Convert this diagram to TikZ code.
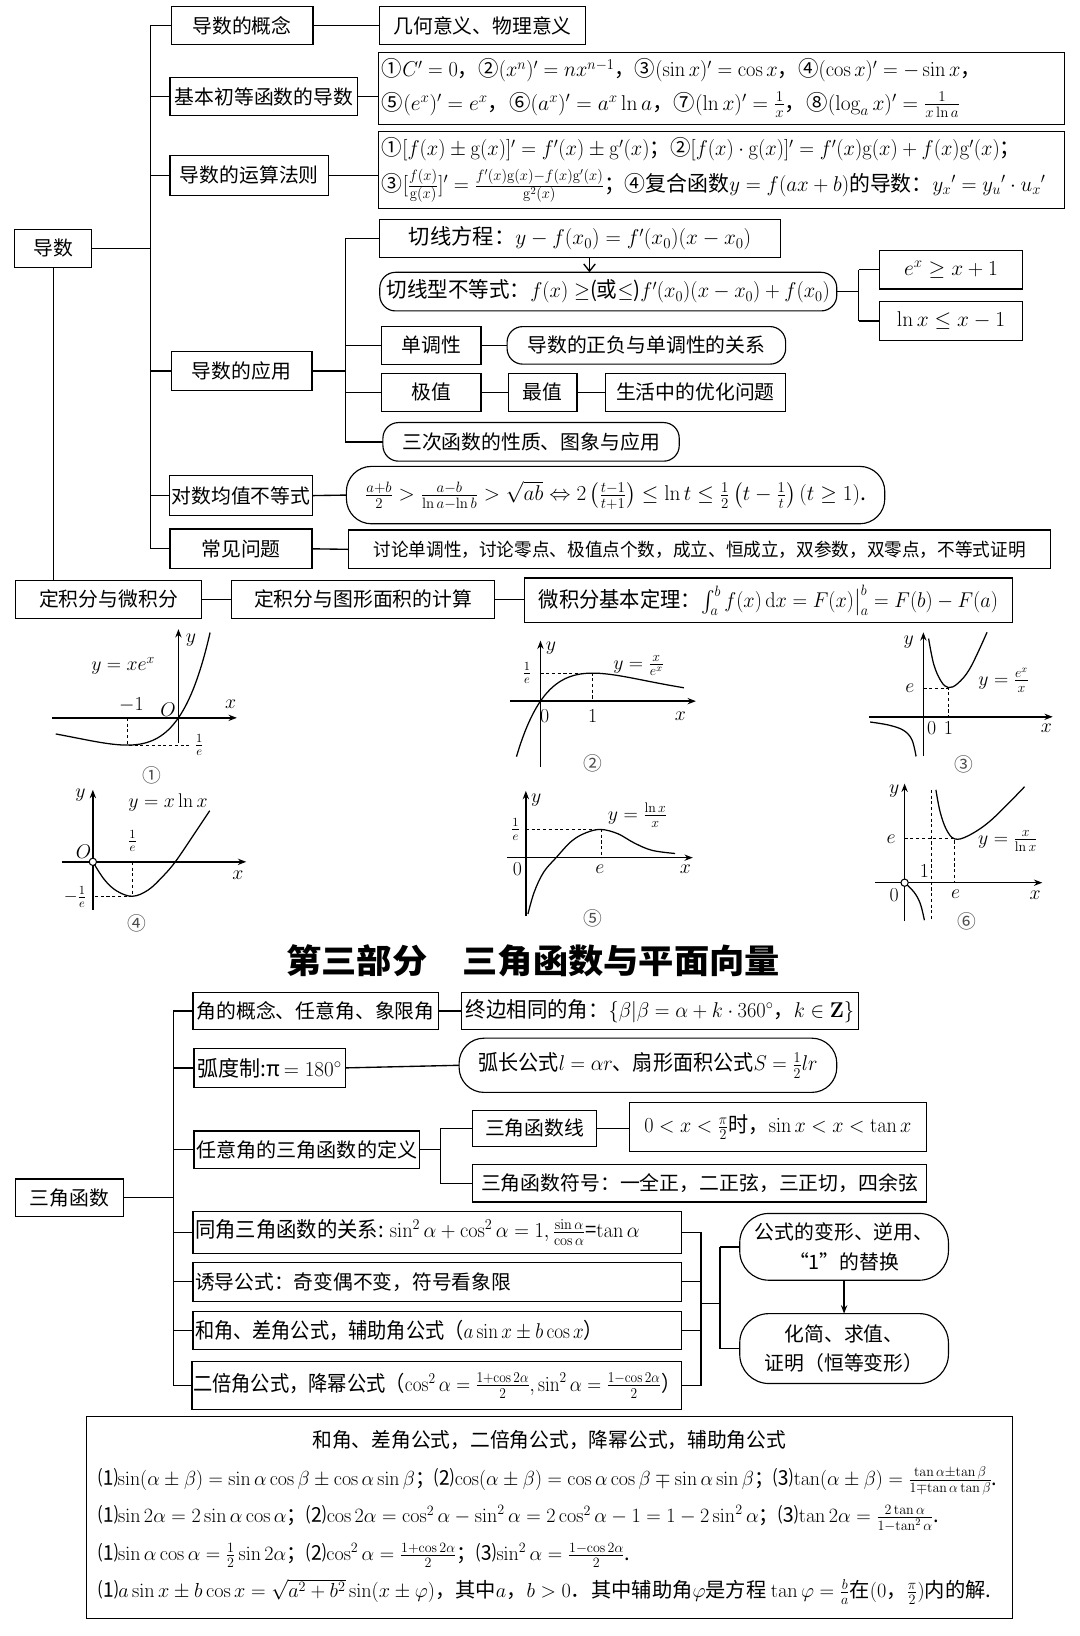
\RequirePackage{fix-cm}
\documentclass[tikz,border=0pt]{standalone}
\usepackage{amsmath,amssymb}
\usepackage[no-math]{fontspec}
\setmainfont{Noto Sans CJK SC}
\usepackage{graphicx}
\usetikzlibrary{arrows.meta}
\newcommand\fw[2]{\resizebox{#1pt}{\height}{#2}}
\newcommand\LL[3]{\makebox[#1pt][l]{\resizebox{#2pt}{\height}{#3}}}
\newcommand\CL[3]{\makebox[#1pt][c]{\resizebox{#2pt}{\height}{#3}}}
\newcommand\mybox[7]{\node[#1,minimum width={#5-#3},minimum height={#6-#4}] (#2) at ({(#3+#5)/2},{(#4+#6)/2}) {#7};}
\tikzset{
 bx/.style={draw=black, line width=1.1pt, inner sep=2pt, outer sep=0pt, align=center, font=\fontsize{19}{22}\selectfont},
 fbx/.style={bx, font=\fontsize{20.5}{24}\selectfont},
 rbx/.style={bx, rounded corners=#1},
 rbx/.default=15pt,
 conn/.style={line width=1.3pt},
 axarr/.style={line width=1.4pt, -{Stealth[length=8pt,width=6pt]}},
 crv/.style={line width=1.2pt},
 dsh/.style={line width=0.9pt, dash pattern=on 3pt off 2.5pt},
 lab/.style={inner sep=0pt, font=\fontsize{19}{21}\selectfont},
 num/.style={inner sep=0pt, font=\fontsize{18}{20}\selectfont, text=black!70},
}
\begin{document}
\begin{tikzpicture}[x=1pt,y=-1pt]
\path[fill=white,use as bounding box] (0,0) rectangle (1035,1568);

% ---------------- derivative section ----------------
\mybox{bx}{T0}{14}{220}{88}{256}{导数}
\mybox{bx}{A1}{164}{6}{300}{43}{导数的概念}
\mybox{bx}{A1r}{364}{6}{561}{43}{几何意义、物理意义}
\mybox{bx}{A2}{163}{74}{343}{111}{基本初等函数的导数}
\mybox{bx,inner xsep=3pt,font=\fontsize{20.5}{32}\selectfont}{A2r}{363}{50}{1020}{119}{%
\LL{651}{574}{①$C'=0$，②$(x^n)'=nx^{n-1}$，③$(\sin x)'=\cos x$，④$(\cos x)'=-\sin x$，}\\
\LL{651}{554}{⑤$(e^x)'=e^x$，⑥$(a^x)'=a^x\ln a$，⑦$(\ln x)'=\frac{1}{x}$，⑧$(\log_a x)'=\frac{1}{x\ln a}$}}
\mybox{bx}{A3}{163}{149}{315}{187}{导数的运算法则}
\mybox{bx,inner xsep=3pt,font=\fontsize{20.5}{34}\selectfont}{A3r}{363}{126}{1020}{200}{%
\LL{651}{612}{①$[f(x)\pm\mathrm{g}(x)]'=f'(x)\pm\mathrm{g}'(x)$；②$[f(x)\cdot\mathrm{g}(x)]'=f'(x)\mathrm{g}(x)+f(x)\mathrm{g}'(x)$；}\\
\LL{651}{636}{③$[\frac{f(x)}{\mathrm{g}(x)}]'=\frac{f'(x)\mathrm{g}(x)-f(x)\mathrm{g}'(x)}{\mathrm{g}^2(x)}$；④复合函数$y=f(ax+b)$的导数：$y_x{}'=y_u{}'\cdot u_x{}'$}}
\mybox{bx}{A4}{164}{337}{299}{374}{导数的应用}
\mybox{fbx}{Q1}{364}{210}{748}{247}{\fw{328}{切线方程：$y-f(x_0)=f'(x_0)(x-x_0)$}}
\mybox{rbx,font=\fontsize{20.5}{24}\selectfont}{Q2}{364}{261}{802}{298}{\fw{425}{切线型不等式：$f(x)\geq$(或$\leq$)$f'(x_0)(x-x_0)+f(x_0)$}}
\mybox{fbx}{Q2a}{843}{240}{980}{277}{$e^x\geq x+1$}
\mybox{fbx}{Q2b}{843}{289}{980}{326}{$\ln x\leq x-1$}
\mybox{bx}{Q3}{366}{313}{461}{349}{单调性}
\mybox{rbx}{Q3r}{486}{313}{753}{349}{导数的正负与单调性的关系}
\mybox{bx}{Q4}{366}{358}{461}{394}{极值}
\mybox{bx}{Q4b}{487}{358}{553}{394}{最值}
\mybox{bx}{Q4c}{580}{358}{753}{394}{生活中的优化问题}
\mybox{rbx}{Q5}{367}{405}{651}{442}{三次函数的性质、图象与应用}
\mybox{bx}{A5}{163}{456}{299}{494}{对数均值不等式}
\mybox{rbx=24pt,font=\fontsize{20.5}{24}\selectfont}{A5r}{332}{447}{848}{502}{\fw{480}{$\frac{a+b}{2}>\frac{a-b}{\ln a-\ln b}>\sqrt{ab}\Leftrightarrow 2\left(\frac{t-1}{t+1}\right)\leq\ln t\leq\frac{1}{2}\left(t-\frac{1}{t}\right)(t\geq1)$.}}
\mybox{bx}{A6}{163}{507}{299}{545}{常见问题}
\mybox{bx,font=\fontsize{17.5}{20}\selectfont}{A6r}{334}{508}{1007}{545}{\fw{625}{讨论单调性，讨论零点、极值点个数，成立、恒成立，双参数，双零点，不等式证明}}
\mybox{bx}{C0}{15}{556}{193}{593}{定积分与微积分}
\mybox{bx}{C1}{222}{556}{474}{593}{定积分与图形面积的计算}
\mybox{fbx}{C2}{503}{554}{970}{597}{\fw{440}{微积分基本定理：$\int_a^b f(x)\,\mathrm{d}x=F(x)\big|_a^b=F(b)-F(a)$}}

% connectors
\coordinate (trA) at (144,24.5);
\coordinate (trB) at (144,526);
\draw[conn] (trA) -- (trB);
\draw[conn] (T0.east) -- (T0.east -| trA);
\foreach \n in {A1,A2,A3,A4,A5,A6} \draw[conn] (\n.west) -- (\n.west -| trA);
\draw[conn] (A1.east) -- (A1r.west);
\draw[conn] (A2.east) -- (A2.east -| A2r.west);
\draw[conn] (A3.east) -- (A3.east -| A3r.west);
\draw[conn] (A5.east) -- (A5r.west);
\draw[conn] (A6.east) -- (A6r.west);
\coordinate (trC) at (331,228.5);
\coordinate (trD) at (331,423.5);
\draw[conn] (trC) -- (trD);
\draw[conn] (A4.east) -- (A4.east -| trC);
\foreach \n in {Q1,Q3,Q4,Q5} \draw[conn] (\n.west) -- (\n.west -| trC);
\coordinate (ax) at (565,0);
\draw[conn,-{Straight Barb[length=7pt,width=11pt]}] (Q1.south -| ax) -- (Q2.north -| ax);
\coordinate (j1) at (823,258.5);
\coordinate (j2) at (823,307.5);
\draw[conn] (j1) -- (j2);
\draw[conn] (Q2.east) -- (Q2.east -| j1);
\draw[conn] (Q2a.west) -- (Q2a.west -| j1);
\draw[conn] (Q2b.west) -- (Q2b.west -| j1);
\draw[conn] (Q3.east) -- (Q3r.west);
\draw[conn] (Q4.east) -- (Q4b.west);
\draw[conn] (Q4b.east) -- (Q4c.west);
\draw[conn] (T0.south) -- (T0.south |- C0.north);
\draw[conn] (C0.east) -- (C1.west);
\draw[conn] (C1.east) -- (C1.east -| C2.west);

% ---------------- graphs ----------------
% graph 1
\draw[axarr] (50,688) -- (227,688);
\draw[axarr] (171,712) -- (171,603);
\draw[crv,domain=-2.4:0.62,samples=60,smooth] plot ({171+49*\x},{688-71*\x*exp(\x)});
\draw[dsh] (122,688) -- (122,714) -- (183,714);
\node[lab] (g1f) at (118,638) {$y=xe^x$};
\node[lab] (g1m) at (126,676) {$-1$};
\node[lab] (g1o) at (161,680) {$O$};
\node[lab] (g1x) at (221,675) {$x$};
\node[lab] (g1y) at (183,614) {$y$};
\node[lab,font=\fontsize{17}{19}\selectfont] (g1e) at (191,714) {$\frac{1}{e}$};
\node[num] (g1n) at (146,743) {①};
% graph 2
\draw[axarr] (489,672) -- (667,672);
\draw[axarr] (518,735) -- (518,614);
\draw[crv,domain=-0.46:2.75,samples=60,smooth] plot ({518+50*\x},{672-73*\x*exp(-\x)});
\draw[dsh] (518,645) -- (568,645) -- (568,672);
\node[lab,font=\fontsize{17}{19}\selectfont] (g2e) at (505,645) {$\frac{1}{e}$};
\node[lab] (g2o) at (522,686) {$0$};
\node[lab] (g2a) at (568,686) {$1$};
\node[lab] (g2x) at (652,686) {$x$};
\node[lab] (g2y) at (528,621) {$y$};
\node[lab] (g2f) at (612,638) {$y=\frac{x}{e^x}$};
\node[num] (g2n) at (568,732) {②};
% graph 3
\draw[axarr] (833,687) -- (1009,687);
\draw[axarr] (885,725) -- (885,606);
\draw[crv] plot[smooth,tension=0.6] coordinates {(890,612) (895,637) (902,653) (909,659) (918,655) (930,640) (946,606)};
\draw[crv] plot[smooth,tension=0.6] coordinates {(834,692) (852,695) (866,700) (874,709) (878,725)};
\draw[dsh] (885,660) -- (909,660) -- (909,687);
\node[lab] (g3e) at (872,660) {$e$};
\node[lab] (g3o) at (893,698) {$0$};
\node[lab] (g3a) at (909,698) {$1$};
\node[lab] (g3x) at (1003,698) {$x$};
\node[lab] (g3y) at (871,615) {$y$};
\node[lab] (g3f) at (962,652) {$y=\frac{e^x}{x}$};
\node[num] (g3n) at (924,733) {③};
% graph 4
\draw[axarr] (59,826) -- (236,826);
\draw[axarr] (89,872) -- (89,757);
\draw[crv] plot[smooth,tension=0.6] coordinates {(89,826) (100,843) (112,854) (127,859) (142,853) (156,840) (168,826) (185,801) (201,777)};
\draw[dsh] (127,826) -- (127,859) -- (89,859);
\draw[line width=1pt,fill=white] (89,826) circle (3.5pt);
\node[lab,font=\fontsize{17}{19}\selectfont] (g4e) at (127,806) {$\frac{1}{e}$};
\node[lab,font=\fontsize{17}{19}\selectfont] (g4m) at (72,860) {$-\frac{1}{e}$};
\node[lab] (g4o) at (80,816) {$O$};
\node[lab] (g4x) at (228,839) {$x$};
\node[lab] (g4y) at (77,762) {$y$};
\node[lab] (g4f) at (161,769) {$y=x\ln x$};
\node[num] (g4n) at (131,885) {④};
% graph 5
\draw[axarr] (486,822) -- (664,822);
\draw[axarr] (504,878) -- (504,758);
\draw[crv] plot[smooth,tension=0.6] coordinates {(506,876) (512,855) (521,836) (533,822) (548,806) (562,798) (576,795) (592,799) (608,808) (625,815) (647,818)};
\draw[dsh] (504,795) -- (576,795) -- (576,822);
\node[lab,font=\fontsize{17}{19}\selectfont] (g5e) at (494,795) {$\frac{1}{e}$};
\node[lab] (g5o) at (496,833) {$0$};
\node[lab] (g5a) at (575,833) {$e$};
\node[lab] (g5x) at (657,833) {$x$};
\node[lab] (g5y) at (514,767) {$y$};
\node[lab] (g5f) at (611,781) {$y=\frac{\ln x}{x}$};
\node[num] (g5n) at (568,880) {⑤};
% graph 6
\draw[axarr] (839,846) -- (999,846);
\draw[axarr] (867,883) -- (867,751);
\draw[dsh] (893,757) -- (893,883);
\draw[crv] plot[smooth,tension=0.6] coordinates {(897,757) (901,778) (907,795) (915,804) (928,801) (950,786) (982,754)};
\draw[crv] plot[smooth,tension=0.6] coordinates {(867,846) (876,855) (882,866) (886,882)};
\draw[dsh] (867,804) -- (915,804) -- (915,846);
\draw[line width=1pt,fill=white] (867,846) circle (3.5pt);
\node[lab] (g6e) at (854,804) {$e$};
\node[lab] (g6a) at (886,835) {$1$};
\node[lab] (g6b) at (916,857) {$e$};
\node[lab] (g6o) at (857,858) {$0$};
\node[lab] (g6x) at (992,858) {$x$};
\node[lab] (g6y) at (857,758) {$y$};
\node[lab] (g6f) at (966,806) {$y=\frac{x}{\ln x}$};
\node[num] (g6n) at (927,883) {⑥};

% ---------------- title ----------------
\node[inner sep=0pt,font=\fontsize{32}{34}\selectfont\bfseries] (title) at (511,921) {\fw{473}{第三部分\hspace{1em}三角函数与平面向量}};

% ---------------- trig section ----------------
\mybox{bx}{S0}{15}{1130}{118}{1166}{三角函数}
\mybox{bx}{S1}{185}{951}{420}{987}{\fw{228}{角的概念、任意角、象限角}}
\mybox{fbx}{S1r}{442}{951}{823}{987}{\fw{372}{终边相同的角：$\{\beta|\beta=\alpha+k\cdot360^\circ$，$k\in\mathbf{Z}\}$}}
\mybox{fbx}{S2}{186}{1005}{331}{1042}{\fw{138}{弧度制:π$\,=180^\circ$}}
\mybox{rbx=24pt,font=\fontsize{20.5}{24}\selectfont}{S2r}{440}{995}{802}{1047}{\fw{325}{弧长公式$l=\alpha r$、扇形面积公式$S=\frac{1}{2}lr$}}
\mybox{bx}{S3}{186}{1084}{402}{1120}{\fw{212}{任意角的三角函数的定义}}
\mybox{bx}{S3a}{453}{1064}{572}{1099}{三角函数线}
\mybox{fbx}{S3ar}{603}{1057}{888}{1104}{\fw{256}{$0<x<\frac{\pi}{2}$时，$\sin x<x<\tan x$}}
\mybox{bx}{S3b}{453}{1116}{888}{1152}{\fw{419}{三角函数符号：一全正，二正弦，三正切，四余弦}}
\mybox{fbx,inner xsep=2pt}{S4}{185}{1161}{653}{1201}{\LL{464}{426}{同角三角函数的关系: $\sin^2\alpha+\cos^2\alpha=1,\frac{\sin\alpha}{\cos\alpha}$=$\tan\alpha$}}
\mybox{bx,inner xsep=2pt}{S5}{185}{1210}{653}{1247}{\LL{464}{303}{诱导公式：奇变偶不变，符号看象限}}
\mybox{fbx,inner xsep=2pt}{S6}{185}{1257}{653}{1293}{\LL{464}{391}{和角、差角公式，辅助角公式（$a\sin x\pm b\cos x$）}}
\mybox{fbx,inner xsep=1pt}{S7}{184}{1305}{653}{1351}{\LL{467}{467}{二倍角公式，降幂公式（$\cos^2\alpha=\frac{1+\cos2\alpha}{2},\sin^2\alpha=\frac{1-\cos2\alpha}{2}$）}}
\mybox{rbx=28pt,font=\fontsize{19}{28}\selectfont}{R1}{709}{1163}{909}{1227}{公式的变形、逆用、\\“1”的替换}
\mybox{rbx=28pt,font=\fontsize{19}{28}\selectfont}{R2}{709}{1259}{909}{1326}{化简、求值、\\证明（恒等变形）}

\coordinate (tt) at (166,969);
\coordinate (tb) at (166,1328);
\draw[conn] (tt) -- (tb);
\draw[conn] (S0.east) -- (S0.east -| tt);
\foreach \n in {S1,S2,S3,S4,S5,S6,S7} \draw[conn] (\n.west) -- (\n.west -| tt);
\draw[conn] (S1.east) -- (S1r.west);
\draw[conn] (S2.east) -- (S2r.west);
\coordinate (k1) at (422,1081.5);
\coordinate (k2) at (422,1134);
\draw[conn] (k1) -- (k2);
\draw[conn] (S3.east) -- (S3.east -| k1);
\draw[conn] (S3a.west) -- (S3a.west -| k1);
\draw[conn] (S3b.west) -- (S3b.west -| k1);
\draw[conn] (S3a.east) -- (S3a.east -| S3ar.west);
\coordinate (m1) at (672,1181);
\coordinate (m2) at (672,1328);
\draw[conn] (m1) -- (m2);
\foreach \n in {S4,S5,S6,S7} \draw[conn] (\n.east) -- (\n.east -| m1);
\coordinate (m3) at (672,1249);
\coordinate (n1) at (690,1195);
\coordinate (n2) at (690,1292.5);
\draw[conn] (m3) -- (m3 -| n1);
\draw[conn] (n1) -- (n2);
\draw[conn] (R1.west) -- (R1.west -| n1);
\draw[conn] (R2.west) -- (R2.west -| n1);
\draw[conn,-{Stealth[length=8pt,width=6pt]}] (R1.south) -- (R2.north);

% ---------------- bottom box ----------------
\mybox{bx,inner xsep=11pt,align=left,font=\fontsize{19.5}{36}\selectfont}{BB}{83}{1358}{970}{1551}{%
\CL{865}{454}{和角、差角公式，二倍角公式，降幂公式，辅助角公式}\\
\LL{865}{862}{⑴$\sin(\alpha\pm\beta)=\sin\alpha\cos\beta\pm\cos\alpha\sin\beta$；⑵$\cos(\alpha\pm\beta)=\cos\alpha\cos\beta\mp\sin\alpha\sin\beta$；⑶$\tan(\alpha\pm\beta)=\frac{\tan\alpha\pm\tan\beta}{1\mp\tan\alpha\tan\beta}$.}\\
\LL{865}{806}{⑴$\sin2\alpha=2\sin\alpha\cos\alpha$；⑵$\cos2\alpha=\cos^2\alpha-\sin^2\alpha=2\cos^2\alpha-1=1-2\sin^2\alpha$；⑶$\tan2\alpha=\frac{2\tan\alpha}{1-\tan^2\alpha}$.}\\
\LL{865}{510}{⑴$\sin\alpha\cos\alpha=\frac{1}{2}\sin2\alpha$；⑵$\cos^2\alpha=\frac{1+\cos2\alpha}{2}$；⑶$\sin^2\alpha=\frac{1-\cos2\alpha}{2}$.}\\
\LL{865}{856}{⑴$a\sin x\pm b\cos x=\sqrt{a^2+b^2}\sin(x\pm\varphi)$，其中$a$，$b>0$．其中辅助角$\varphi$是方程 $\tan\varphi=\frac{b}{a}$在$(0$，$\frac{\pi}{2})$内的解.}}
\end{tikzpicture}
\end{document}
